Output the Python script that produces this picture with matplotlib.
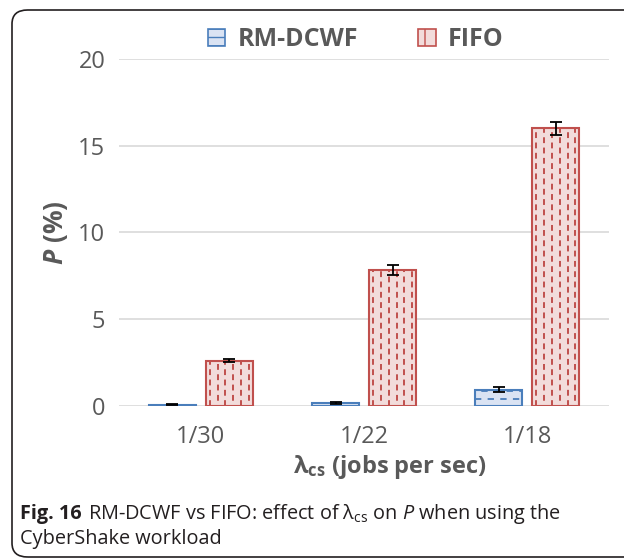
import numpy as np
import matplotlib.pyplot as plt
from matplotlib.patches import Patch, FancyBboxPatch

plt.rcParams['font.family'] = ['Open Sans', 'DejaVu Sans']
plt.rcParams['mathtext.fontset'] = 'custom'
plt.rcParams['mathtext.rm'] = 'Open Sans'
plt.rcParams['mathtext.it'] = 'Open Sans:italic'
plt.rcParams['mathtext.bf'] = 'Open Sans:bold'
plt.rcParams['mathtext.bfit'] = 'Open Sans:italic:bold'
plt.rcParams['hatch.linewidth'] = 1.0

# data
categories = ["1/30", "1/22", "1/18"]
rm_dcwf = [0.06, 0.17, 0.95]
rm_dcwf_err = [0.03, 0.04, 0.13]
fifo = [2.62, 7.82, 16.0]
fifo_err = [0.10, 0.28, 0.38]

GREY = "#595959"
BLUE_EDGE, BLUE_FILL = "#4a7ebb", "#dae3f3"
RED_EDGE, RED_FILL = "#c0504d", "#f2dcdb"

fig = plt.figure(figsize=(6.24, 5.59), dpi=100)
ax = fig.add_axes([0.191, 0.2737, 0.785, 0.6208])

x = np.arange(len(categories))
w = 0.288
off = 0.1745

bars_rm = ax.bar(x - off, rm_dcwf, w, color=BLUE_FILL, edgecolor="none", zorder=2)
bars_ff = ax.bar(x + off, fifo, w, color=RED_FILL, edgecolor="none", zorder=2)

# dashed fill pattern, clipped to each bar
for b in bars_ff:
    x0, bw, h = b.get_x(), b.get_width(), b.get_height()
    for k in range(6):
        xc = x0 + (k + 0.5) * bw / 6
        ls = (0 if k % 2 == 0 else 2.6, (3.0, 2.3))
        ln = ax.vlines(xc, 0, h, colors=RED_EDGE, linewidth=1.4, linestyles=[ls], zorder=3)
        ln.set_clip_path(b)
for b in bars_rm:
    x0, bw, h = b.get_x(), b.get_width(), b.get_height()
    for k, yr in enumerate(np.arange(0.39, h, 0.45)):
        ls = (0 if k % 2 == 0 else 3.5, (3.5, 3.5))
        ln = ax.hlines(yr, x0, x0 + bw, colors=BLUE_EDGE, linewidth=1.3, linestyles=[ls], zorder=3)
        ln.set_clip_path(b)

ax.bar(x - off, rm_dcwf, w, fill=False, edgecolor=BLUE_EDGE, linewidth=1.5, zorder=4)
ax.bar(x + off, fifo, w, fill=False, edgecolor=RED_EDGE, linewidth=1.5, zorder=4)

ax.errorbar(x - off, rm_dcwf, yerr=rm_dcwf_err, fmt="none", ecolor="black",
            elinewidth=1.3, capsize=4, capthick=1.3, zorder=5)
ax.errorbar(x + off, fifo, yerr=fifo_err, fmt="none", ecolor="black",
            elinewidth=1.3, capsize=4, capthick=1.3, zorder=5)

ax.set_xlim(-0.5, 2.5)
ax.set_ylim(0, 20)
ax.set_yticks([0, 5, 10, 15, 20])
ax.set_xticks(x)
ax.set_xticklabels(categories)
ax.grid(axis="y", color="#d9d9d9", linewidth=1.2, zorder=0)
ax.set_axisbelow(True)
for s in ax.spines.values():
    s.set_visible(False)
ax.tick_params(axis="both", length=0, labelsize=17, labelcolor=GREY)
ax.tick_params(axis="y", pad=10)
ax.tick_params(axis="x", pad=14)

ax.set_ylabel(r"$\mathbfit{P}$ (%)", fontsize=19, fontweight="bold", color=GREY, labelpad=6)
ax.set_xlabel(r"λ$_{\mathbf{cs}}$ (jobs per sec)", fontsize=17, fontweight="bold", color=GREY, labelpad=6)
ax.xaxis.set_label_coords(0.552, -0.135)

handles = [Patch(facecolor=BLUE_FILL, edgecolor=BLUE_EDGE, hatch="--", linewidth=1.2),
           Patch(facecolor=RED_FILL, edgecolor=RED_EDGE, hatch="|", linewidth=1.2)]
leg = fig.legend(handles, ["RM-DCWF", "FIFO"], loc="center", bbox_to_anchor=(0.570, 0.929),
                 ncol=2, frameon=False, handlelength=0.7, handleheight=0.7,
                 handletextpad=0.5, columnspacing=2.4, prop={"size": 18, "weight": "bold"})
for t in leg.get_texts():
    t.set_color(GREY)

# caption
cap_kw = dict(fontsize=14.3, color="#231f20")
t1 = fig.text(0.032, 0.071, "Fig. 16", fontweight="bold", **cap_kw)
fig.canvas.draw()
bb = t1.get_window_extent()
x2 = (bb.x1 + 6) / fig.bbox.width
fig.text(x2, 0.071, r"RM-DCWF vs FIFO: effect of λ$_{\mathrm{cs}}$ on $P$ when using the", **cap_kw)
fig.text(0.032, 0.026, "CyberShake workload", **cap_kw)

# rounded frame
frame = FancyBboxPatch((12 / 624, 2 / 559), 640 / 624, 547 / 559,
                       boxstyle="round,pad=0,rounding_size=0.025", transform=fig.transFigure,
                       facecolor="none", edgecolor="#231f20", linewidth=1.2, clip_on=False)
fig.add_artist(frame)

fig.savefig("out.png", dpi=100)
